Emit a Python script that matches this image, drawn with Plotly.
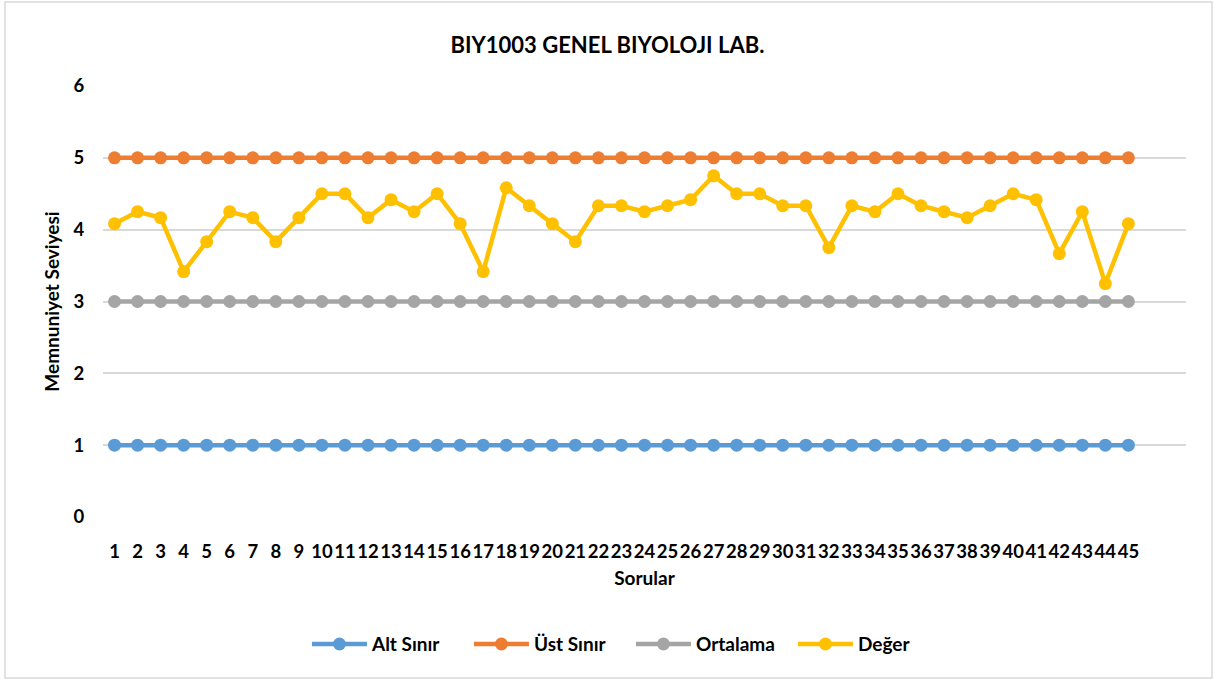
import plotly.graph_objects as go

sorular = list(range(1, 46))
alt_sinir = [1] * 45
ust_sinir = [5] * 45
ortalama = [3] * 45
deger = [4.083, 4.25, 4.167, 3.417, 3.833, 4.25, 4.167, 3.833, 4.167, 4.5,
         4.5, 4.167, 4.417, 4.25, 4.5, 4.083, 3.417, 4.583, 4.333, 4.083,
         3.833, 4.333, 4.333, 4.25, 4.333, 4.417, 4.75, 4.5, 4.5, 4.333,
         4.333, 3.75, 4.333, 4.25, 4.5, 4.333, 4.25, 4.167, 4.333, 4.5,
         4.417, 3.667, 4.25, 3.25, 4.083]

series = [
    ("Alt Sınır", alt_sinir, "#5B9BD5"),
    ("Üst Sınır", ust_sinir, "#ED7D31"),
    ("Ortalama", ortalama, "#A5A5A5"),
    ("Değer", deger, "#FFC000"),
]

FONT = "Lato"
BOLD = dict(family=FONT, weight="bold", color="#000000")
fig = go.Figure()
for name, vals, color in series:
    fig.add_trace(go.Scatter(
        x=sorular, y=vals, name=name, mode="lines+markers",
        line=dict(color=color, width=4.5),
        marker=dict(color=color, size=13),
    ))

fig.update_layout(
    width=1215, height=681,
    paper_bgcolor="white", plot_bgcolor="white",
    margin=dict(l=103, r=29, t=86, b=164),
    font=dict(family=FONT, color="#000000"),
    title=dict(text="BIY1003 GENEL BIYOLOJI LAB.", x=0.5, xanchor="center",
               y=1 - 45 / 681, yanchor="middle",
               font=dict(size=22, **BOLD)),
    xaxis=dict(
        range=[0.5, 47.5], tickmode="array", tickvals=sorular,
        ticktext=[str(s) for s in sorular],
        showgrid=False, zeroline=False, showline=False,
        ticks="outside", ticklen=18, tickcolor="rgba(0,0,0,0)",
        tickfont=dict(size=18.5, **BOLD),
        tickangle=0,
        title=dict(text="Sorular", standoff=10, font=dict(size=19, **BOLD)),
    ),
    yaxis=dict(
        range=[0, 6], dtick=1, showgrid=True, gridcolor="#D9D9D9", gridwidth=1.5,
        zeroline=False, showline=False,
        ticks="outside", ticklen=14, tickcolor="rgba(0,0,0,0)",
        tickfont=dict(size=18.5, **BOLD),
        title=dict(text="Memnuniyet Seviyesi", standoff=8, font=dict(size=19, **BOLD)),
    ),
    legend=dict(orientation="h", x=0.4875, xanchor="center", y=-0.295, yanchor="middle",
                font=dict(size=19, **BOLD),
                itemwidth=55, entrywidth=92, entrywidthmode="pixels", tracegroupgap=0),
    shapes=[dict(type="rect", xref="paper", yref="paper",
                 x0=-98 / 1083, x1=1 + 26 / 1083, y0=-161 / 431, y1=1 + 84 / 431,
                 line=dict(color="#D9D9D9", width=1.5), layer="below")],
)

fig.write_html("out.html", config={"displayModeBar": False},
               post_script="document.body.style.margin='0';")
